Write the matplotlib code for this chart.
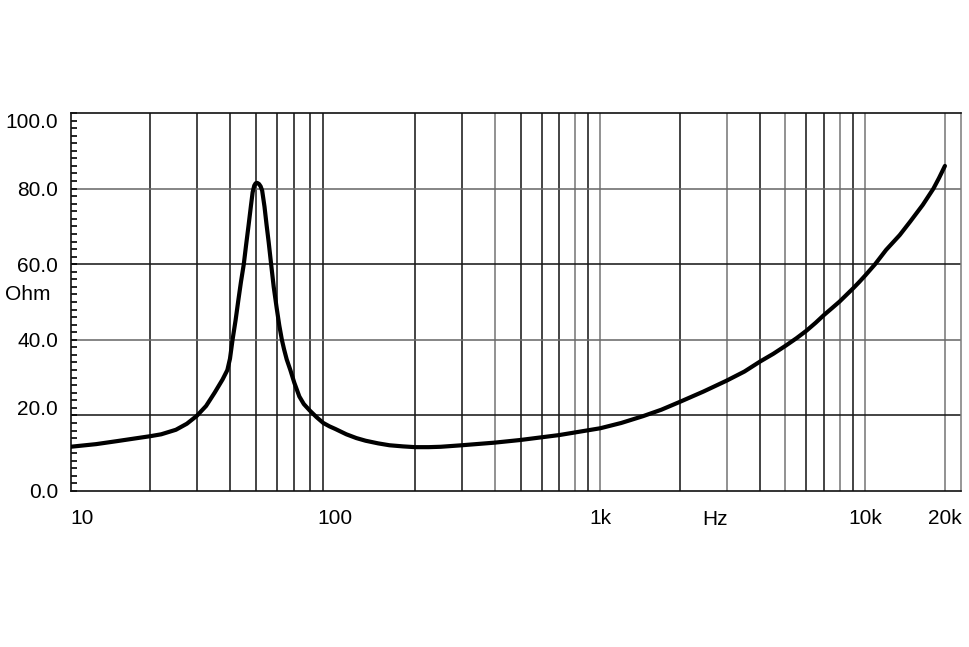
import matplotlib
matplotlib.use('Agg')
import matplotlib.pyplot as plt
from matplotlib.ticker import MultipleLocator, FixedLocator, NullFormatter

# impedance curve (Hz, Ohm)
freq = [10, 12.5, 15, 17.5, 20, 22, 25, 27.5, 30, 32.5, 35, 37.5, 39.1, 40,
        40.9, 42, 43, 44, 45.1, 46, 47, 48, 48.7, 49.4, 50, 50.7, 51.5, 52.2,
        52.9, 54, 55, 56, 57.2, 58.5, 60, 61.4, 62.8, 64, 65.5, 67.6, 70, 73.1,
        76, 80, 85, 90, 95, 100, 110, 120, 130, 145, 160, 180, 200, 225, 250,
        300, 400, 500, 700, 1000, 1200, 1450, 1700, 2000, 2450, 3000, 3500,
        4000, 4500, 5000, 5500, 6000, 6500, 7000, 7500, 8000, 8500, 9000, 9500,
        10000, 10900, 12000, 13500, 14800, 16500, 18100, 19000, 20000]
ohm = [11.7, 12.4, 13.2, 13.9, 14.5, 15.0, 16.2, 17.8, 19.9, 22.5, 26.0, 29.5,
       32.0, 35.0, 40.0, 45.2, 50.4, 55.3, 60.0, 65.0, 70.2, 75.5, 79.0, 80.8,
       81.4, 81.5, 81.2, 80.6, 79.5, 75.2, 70.3, 65.8, 60.0, 54.0, 48.5, 43.8,
       40.0, 37.5, 34.8, 32.0, 28.6, 25.0, 23.0, 21.3, 19.5, 18.0, 17.1, 16.4,
       15.0, 14.0, 13.3, 12.6, 12.1, 11.8, 11.6, 11.6, 11.7, 12.1, 12.8, 13.5,
       14.8, 16.6, 18.0, 19.8, 21.5, 23.6, 26.3, 29.2, 31.6, 34.2, 36.3, 38.4,
       40.4, 42.4, 44.5, 46.6, 48.4, 50.1, 51.9, 53.6, 55.3, 57.0, 60.0, 63.8,
       67.7, 71.3, 75.7, 80.0, 82.8, 86.0]

y_ticks = [0, 20, 40, 60, 80, 100]
x_ticks = [10, 100, 1000, 10000, 20000]
x_labels = ['10', '100', '1k', '10k', '20k']

# vertical grid: 2..9 per decade up to 10k, plus 1k, 10k and 20k
v_lines = [m * d for d in (10, 100, 1000) for m in range(2, 10)] + [1000, 10000, 20000]
grey_v = [400, 800, 1000, 3000, 5000, 8000, 10000, 20000]
grey_h = [80, 40]

plt.rcParams['font.family'] = ['Liberation Sans', 'DejaVu Sans']

fig = plt.figure(figsize=(9.7, 6.47), dpi=100)
ax = fig.add_axes([70.5 / 970, 1 - 491 / 647, (961 - 70.5) / 970, 378 / 647])

for f in v_lines:
    c = '#7a7a7a' if f in grey_v else '#1a1a1a'
    ax.axvline(f, color=c, lw=1.15, zorder=1)
for v in y_ticks[1:-1]:
    c = '#6a6a6a' if v in grey_h else '#1a1a1a'
    ax.axhline(v, color=c, lw=1.15, zorder=1)

ax.plot(freq, ohm, color='black', lw=3.0, solid_capstyle='round',
        solid_joinstyle='round', zorder=3)

ax.set_xscale('log')
ax.set_xlim(10, 23000)
ax.set_ylim(0, 100)

ax.xaxis.set_major_locator(FixedLocator(x_ticks))
ax.set_xticklabels(x_labels)
ax.xaxis.set_minor_locator(FixedLocator([]))
ax.xaxis.set_minor_formatter(NullFormatter())
ax.tick_params(axis='x', which='both', length=0, pad=13, labelsize=15)
ax.get_xticklabels()[0].set_horizontalalignment('left')

ax.set_yticks(y_ticks)
ax.set_yticklabels([f'{v:.1f}' for v in y_ticks])
ax.yaxis.set_minor_locator(MultipleLocator(2))
ax.tick_params(axis='y', which='both', direction='in', length=4.5, width=1.2,
               pad=9, labelsize=15)
ylabs = ax.get_yticklabels()
ylabs[-1].set_verticalalignment('top')
ylabs[1].set_verticalalignment('baseline')

for side in ('left', 'bottom', 'top'):
    ax.spines[side].set_color('#111111')
    ax.spines[side].set_linewidth(1.2)
ax.spines['right'].set_color('#7a7a7a')
ax.spines['right'].set_linewidth(1.1)

ax.text((715 - 70.5) / (961 - 70.5), -0.075, 'Hz', transform=ax.transAxes,
        ha='center', va='center', fontsize=15)
fig.text(5 / 970, 1 - 295 / 647, 'Ohm', ha='left', va='center', fontsize=15)

fig.savefig('out.png', dpi=100, facecolor='white')
